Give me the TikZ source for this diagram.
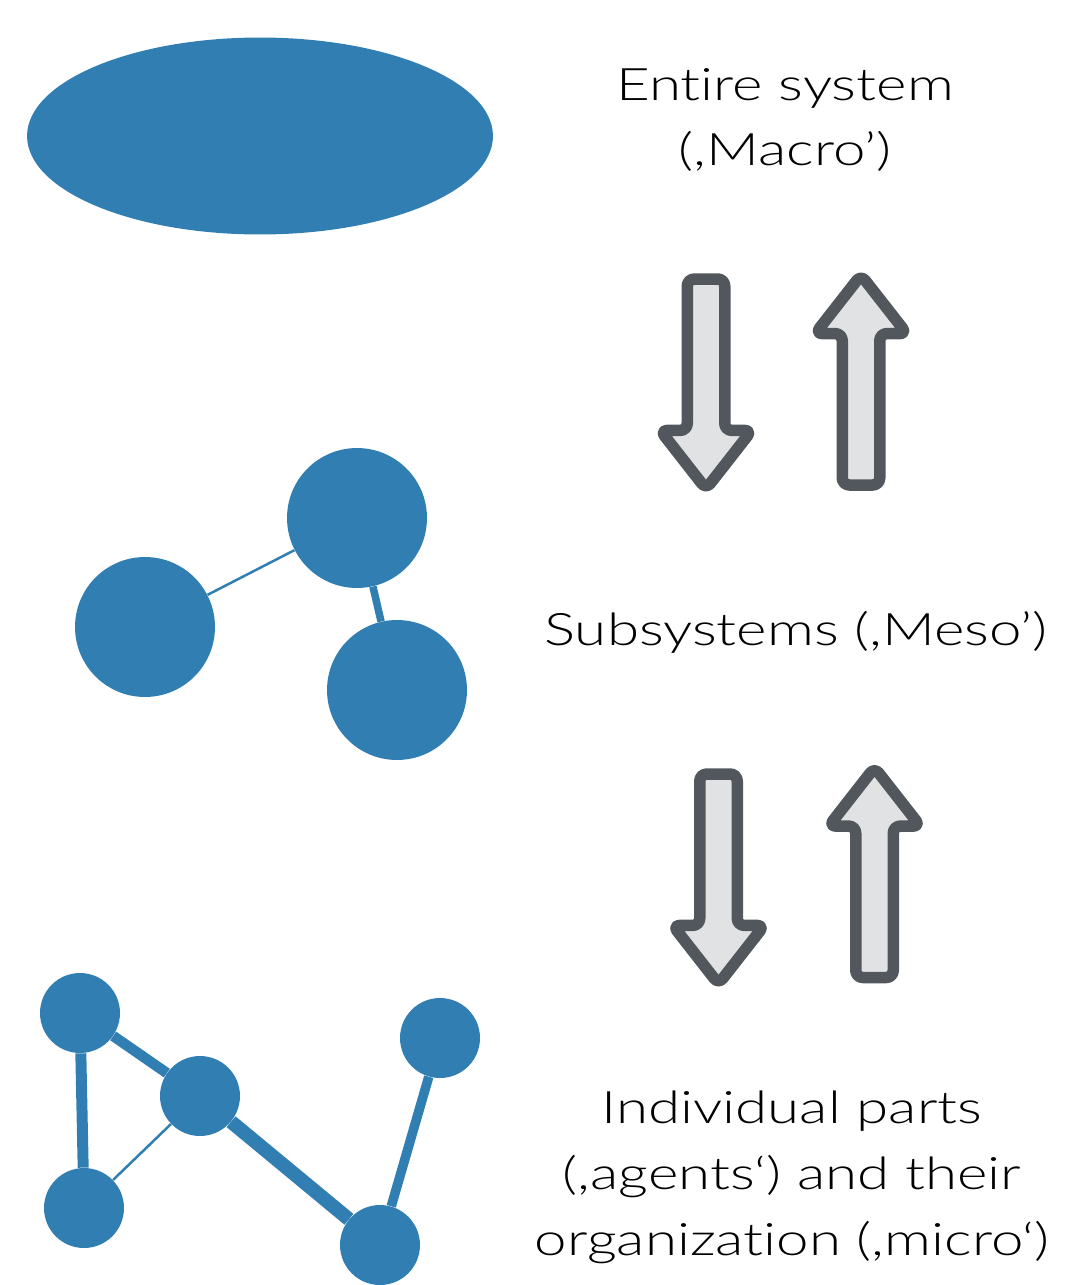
\documentclass[tikz,border=0pt]{standalone}
\usepackage{fontspec}
\setmainfont{Lato Light}[FakeStretch=1.3, Ligatures=NoCommon]
\usepackage{tikz}
\usetikzlibrary{shapes,arrows,positioning,calc}
\definecolor{sysblue}{RGB}{49,127,178}
\definecolor{arrowline}{RGB}{82,87,93}
\definecolor{arrowfill}{RGB}{225,226,228}

\begin{document}
\begin{tikzpicture}[
    x=0.02cm, y=-0.02cm,
    whole/.style={ellipse, fill=sysblue, inner sep=0pt, minimum width=9.32cm, minimum height=3.94cm},
    blob/.style={circle, fill=sysblue, inner sep=0pt, minimum size=2.8cm},
    agent/.style={circle, fill=sysblue, inner sep=0pt, minimum size=1.6cm},
    link/.style={draw=sysblue},
    level/.style={align=center, font=\fontsize{25.5pt}{37.5pt}\selectfont},
    bigarrow/.style={single arrow, draw=arrowline, fill=arrowfill, line width=0.23cm, line join=round, rounded corners=4pt, outer sep=0pt, inner xsep=0pt, inner ysep=0.26cm, minimum height=4.2cm, single arrow head extend=0.54cm, single arrow tip angle=76, anchor=tail}
]
    \useasboundingbox (0,0) rectangle (1070,1285);

    \node [whole] (system) at (260,136) {};
    \node [level] (macro) at (785,120) {Entire system\\(,Macro’)};

    \node [bigarrow, rotate=-90] (down1) at (706,279) {};
    \node [bigarrow, rotate=90] (up1) at (861,485) {};

    \node [blob] (sub1) at (357,518) {};
    \node [blob] (sub2) at (145,627) {};
    \node [blob] (sub3) at (397,690) {};
    \draw [link, line width=0.05cm] (sub2) -- (sub1);
    \draw [link, line width=0.15cm] (sub1) -- (sub3);
    \node [level] (meso) at (796,632) {Subsystems (,Meso’)};

    \node [bigarrow, rotate=-90] (down2) at (718.5,774) {};
    \node [bigarrow, rotate=90] (up2) at (874.5,977.5) {};

    \node [agent] (part1) at (80,1013) {};
    \node [agent] (part2) at (200,1096) {};
    \node [agent] (part3) at (84,1208) {};
    \node [agent] (part4) at (380,1245) {};
    \node [agent] (part5) at (440,1038) {};
    \draw [link, line width=0.21cm] (part1) -- (part2);
    \draw [link, line width=0.22cm] (part1) -- (part3);
    \draw [link, line width=0.05cm] (part2) -- (part3);
    \draw [link, line width=0.28cm] (part2) -- (part4);
    \draw [link, line width=0.19cm] (part4) -- (part5);
    \node [level] (micro) at (792,1177) {Individual parts\\(,agents‘) and their\\organization (,micro‘)};
\end{tikzpicture}
\end{document}
